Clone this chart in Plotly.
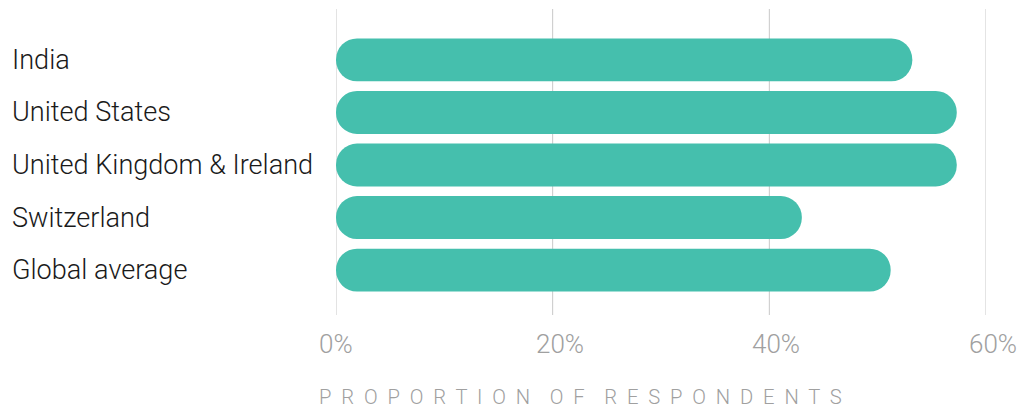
import plotly.graph_objects as go

categories = ["India", "United States", "United Kingdom & Ireland", "Switzerland", "Global average"]
values = [53.2, 57.3, 57.3, 43.0, 51.2]
x_ticks = [0, 20, 40, 60]
x_tick_labels = ["0%", "20%", "40%", "60%"]
axis_title = "PROPORTION OF RESPONDENTS"

BAR = "#45BFAD"
FONT = "Roboto"
PLOT_W = 650
PLOT_H = 306

fig = go.Figure()
fig.add_trace(go.Bar(
    y=categories, x=values, base=[0] * len(values), orientation="h",
    marker=dict(color=BAR, cornerradius="50%", line=dict(width=0)),
    hovertemplate="%{y}: %{x}%<extra></extra>",
))

# vertical gridlines at the tick values (drawn beneath the bars)
for v in x_ticks:
    fig.add_shape(
        type="line", xref="x", yref="paper", x0=v, x1=v, y0=0, y1=1,
        line=dict(color="#c8c8c8", width=1), layer="below",
    )

for c in categories:
    fig.add_annotation(
        x=-326 / PLOT_W, xref="paper", y=c, yref="y",
        text=c, showarrow=False, xanchor="left", yanchor="middle",
        font=dict(family=FONT, size=27.1, color="#1a1a1a", weight=300),
    )

for v, t in zip(x_ticks, x_tick_labels):
    fig.add_annotation(
        x=v, xref="x", y=-29 / PLOT_H, yref="paper", xshift=-19,
        text=t, showarrow=False, xanchor="left", yanchor="middle",
        font=dict(family=FONT, size=26, color="#a0a0a0", weight=300),
    )

spaced = "    ".join("  ".join(w) for w in axis_title.split(" "))
fig.add_annotation(
    x=0, xref="x", y=-82 / PLOT_H, yref="paper", xshift=-19,
    text=spaced, showarrow=False, xanchor="left", yanchor="middle",
    font=dict(family=FONT, size=20.2, color="#a0a0a0", weight=300),
)

fig.update_layout(
    width=1019, height=405,
    margin=dict(l=328, r=41, t=1, b=98),
    paper_bgcolor="white", plot_bgcolor="white",
    bargap=0.184, showlegend=False,
    font=dict(family=FONT),
    xaxis=dict(
        range=[0, 60], tickvals=x_ticks, showticklabels=False,
        showgrid=False, zeroline=False, showline=False, ticks="",
    ),
    yaxis=dict(
        range=[4.854, -0.968], showticklabels=False, showgrid=False,
        zeroline=False, showline=False, ticks="",
    ),
)

fig.write_html("out.html")
